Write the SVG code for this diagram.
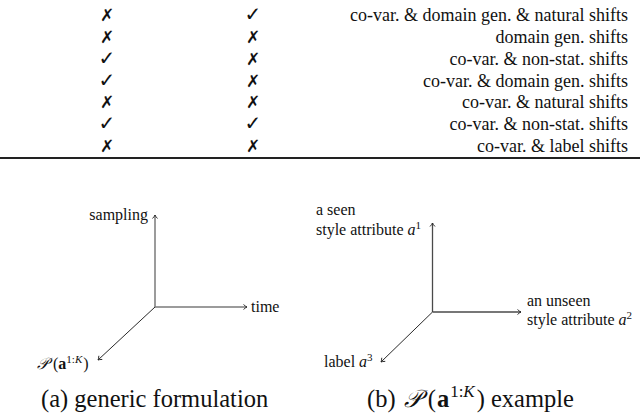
<svg xmlns="http://www.w3.org/2000/svg" width="640" height="415" viewBox="0 0 640 415">
<defs>
<style>
.t{font-family:"Liberation Serif","Times New Roman",serif;fill:#111}
.tb{font-size:18px;text-anchor:end}
.mk{font-family:"DejaVu Sans",sans-serif;font-size:17px;font-weight:bold;text-anchor:middle;fill:#111}
.ck{font-size:20px}
.lab{font-size:16px}
.cap{font-size:24.5px}
.axa{stroke:#7a7a7a;stroke-width:1.5;fill:none}
.axb{stroke:#4a4a4a;stroke-width:1.3;fill:none}
.ax2{stroke:#2a2a2a;stroke-width:1;fill:none}
.cal{font-family:"DejaVu Serif","Liberation Serif",serif;font-style:italic}
</style>
<marker id="ah" markerWidth="8" markerHeight="8" refX="6" refY="4" orient="auto" markerUnits="userSpaceOnUse">
<path d="M2.5,1.5 Q4.5,3.4 6,4 Q4.5,4.6 2.5,6.5" fill="none" stroke="#222" stroke-width="0.9"/>
</marker>
</defs>
<g id="table">
<g class="mk">
<text x="107" y="21">✗</text><text class="ck" x="253" y="21">✓</text>
<text x="107" y="43">✗</text><text x="253" y="43">✗</text>
<text class="ck" x="107" y="65">✓</text><text x="253" y="65">✗</text>
<text class="ck" x="107" y="87">✓</text><text x="253" y="87">✗</text>
<text x="107" y="108">✗</text><text x="253" y="108">✗</text>
<text class="ck" x="107" y="130">✓</text><text class="ck" x="253" y="130">✓</text>
<text x="107" y="152">✗</text><text x="253" y="152">✗</text>
</g>
<g class="t tb">
<text x="628" y="21">co-var. &amp; domain gen. &amp; natural shifts</text>
<text x="628" y="43">domain gen. shifts</text>
<text x="628" y="65">co-var. &amp; non-stat. shifts</text>
<text x="628" y="87">co-var. &amp; domain gen. shifts</text>
<text x="628" y="108">co-var. &amp; natural shifts</text>
<text x="628" y="130">co-var. &amp; non-stat. shifts</text>
<text x="628" y="152">co-var. &amp; label shifts</text>
</g>
<line x1="0" y1="158" x2="640" y2="158" stroke="#222" stroke-width="2"/>
</g>
<g id="connectors">
<line class="axa" x1="155" y1="307" x2="155" y2="215" marker-end="url(#ah)"/>
<line class="axa" x1="155" y1="307" x2="247" y2="307" marker-end="url(#ah)"/>
<line class="ax2" x1="155" y1="307" x2="98" y2="360" marker-end="url(#ah)"/>
<line class="axb" x1="432.5" y1="312" x2="432.5" y2="223" marker-end="url(#ah)"/>
<line class="axb" x1="432.5" y1="312" x2="521" y2="312" marker-end="url(#ah)"/>
<line class="ax2" x1="432.5" y1="312" x2="381" y2="362" marker-end="url(#ah)"/>
</g>
<g id="sampling"><text class="t lab" x="148" y="220" text-anchor="end">sampling</text></g>
<g id="time"><text class="t lab" x="251" y="312">time</text></g>
<g id="pa"><text class="t lab" x="37" y="369"><tspan class="cal">𝒫</tspan><tspan dx="4">(</tspan><tspan font-weight="bold">a</tspan><tspan font-size="11" dy="-6">1:<tspan font-style="italic">K</tspan></tspan><tspan dy="6" dx="1">)</tspan></text></g>
<g id="cap-a"><text class="t cap" x="41" y="407">(a) generic formulation</text></g>
<g id="seen"><text class="t lab" x="316" y="215">a seen</text><text class="t lab" x="316" y="235">style attribute <tspan font-style="italic">a</tspan><tspan font-size="11" dy="-6">1</tspan></text></g>
<g id="unseen"><text class="t lab" x="527" y="306">an unseen</text><text class="t lab" x="527" y="325">style attribute <tspan font-style="italic">a</tspan><tspan font-size="11" dy="-6">2</tspan></text></g>
<g id="label"><text class="t lab" x="324" y="367">label <tspan font-style="italic">a</tspan><tspan font-size="11" dy="-6">3</tspan></text></g>
<g id="cap-b"><text class="t cap" x="367" y="407">(b) <tspan class="cal" dx="2">𝒫</tspan><tspan dx="6">(</tspan><tspan font-weight="bold" dx="1">a</tspan><tspan font-size="17" dy="-10" dx="1">1:<tspan font-style="italic">K</tspan></tspan><tspan dy="10" dx="2">)</tspan><tspan> example</tspan></text></g>
</svg>
